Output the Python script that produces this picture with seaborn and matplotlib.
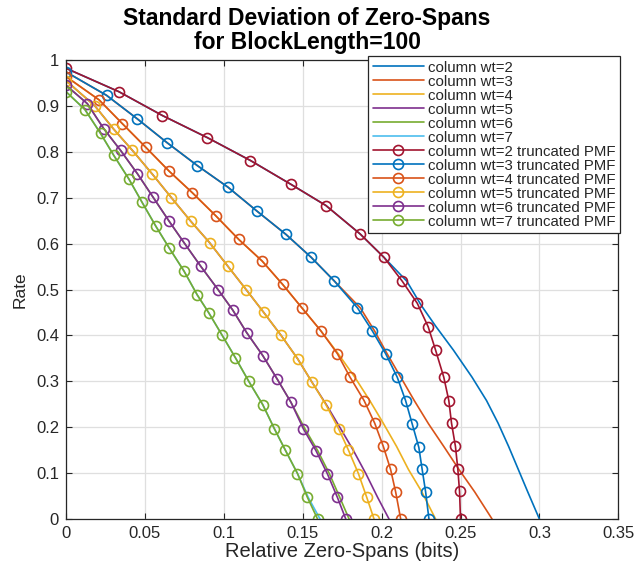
import matplotlib
matplotlib.use("Agg")
import matplotlib.pyplot as plt
import seaborn as sns

# truncated PMF curves (rate vs relative zero-span std), one per column weight
rate_pmf_wt2 = [0.982, 0.931, 0.879, 0.831, 0.781, 0.729, 0.683, 0.621, 0.570, 0.518,
                0.470, 0.419, 0.368, 0.309, 0.258, 0.209, 0.158, 0.109, 0.060, 0.0]
span_pmf_wt2 = [0.0, 0.0335, 0.0611, 0.0895, 0.1169, 0.1426, 0.1647, 0.1864, 0.2015, 0.2131,
                0.2226, 0.2295, 0.2342, 0.2394, 0.2426, 0.2443, 0.2468, 0.2483, 0.2494, 0.2500]

rate_pmf_wt3 = [0.974, 0.923, 0.872, 0.820, 0.770, 0.723, 0.670, 0.620, 0.570, 0.519,
                0.460, 0.410, 0.360, 0.309, 0.258, 0.207, 0.156, 0.108, 0.059, 0.0]
span_pmf_wt3 = [0.0, 0.0257, 0.0451, 0.0640, 0.0832, 0.1026, 0.1213, 0.1394, 0.1554, 0.1699,
                0.1847, 0.1941, 0.2026, 0.2099, 0.2152, 0.2194, 0.2236, 0.2257, 0.2279, 0.2300]

rate_pmf_wt4 = [0.964, 0.913, 0.861, 0.810, 0.758, 0.711, 0.661, 0.609, 0.562, 0.511,
                0.460, 0.410, 0.360, 0.309, 0.258, 0.209, 0.158, 0.108, 0.059, 0.0]
span_pmf_wt4 = [0.0, 0.0210, 0.0358, 0.0505, 0.0653, 0.0800, 0.0948, 0.1095, 0.1243, 0.1373,
                0.1495, 0.1615, 0.1720, 0.1800, 0.1889, 0.1956, 0.2011, 0.2057, 0.2089, 0.2121]

rate_pmf_wt5 = [0.955, 0.900, 0.849, 0.803, 0.751, 0.700, 0.649, 0.602, 0.551, 0.500,
                0.450, 0.400, 0.349, 0.298, 0.249, 0.197, 0.150, 0.099, 0.047, 0.0]
span_pmf_wt5 = [0.0, 0.0183, 0.0303, 0.0421, 0.0548, 0.0668, 0.0790, 0.0910, 0.1025, 0.1141,
                0.1253, 0.1363, 0.1468, 0.1559, 0.1647, 0.1727, 0.1790, 0.1853, 0.1906, 0.1952]

rate_pmf_wt6 = [0.945, 0.905, 0.850, 0.803, 0.752, 0.701, 0.649, 0.602, 0.551, 0.500,
                0.455, 0.406, 0.356, 0.305, 0.254, 0.196, 0.149, 0.098, 0.047, 0.0]
span_pmf_wt6 = [0.0, 0.0135, 0.0240, 0.0346, 0.0453, 0.0552, 0.0653, 0.0748, 0.0853, 0.0963,
                0.1057, 0.1145, 0.1247, 0.1338, 0.1426, 0.1505, 0.1584, 0.1657, 0.1720, 0.1773]

rate_pmf_wt7 = [0.931, 0.892, 0.840, 0.792, 0.741, 0.690, 0.638, 0.591, 0.540, 0.488,
                0.449, 0.400, 0.351, 0.300, 0.249, 0.197, 0.150, 0.099, 0.047, 0.0]
span_pmf_wt7 = [0.0, 0.0120, 0.0219, 0.0303, 0.0398, 0.0482, 0.0569, 0.0653, 0.0748, 0.0832,
                0.0905, 0.0990, 0.1074, 0.1158, 0.1247, 0.1320, 0.1390, 0.1467, 0.1530, 0.1594]

# plain column-weight curves (no markers)
rate_col_wt2 = [0.982, 0.931, 0.879, 0.831, 0.781, 0.729, 0.683, 0.621, 0.570, 0.518,
                0.466, 0.419, 0.368, 0.309, 0.258, 0.209, 0.158, 0.109, 0.060, 0.0]
span_col_wt2 = [0.0, 0.0335, 0.0611, 0.0895, 0.1169, 0.1426, 0.1647, 0.1864, 0.2015, 0.2160,
                0.2250, 0.2345, 0.2455, 0.2573, 0.2665, 0.2738, 0.2805, 0.2865, 0.2925, 0.3000]

rate_col_wt3 = [0.974, 0.923, 0.872, 0.820, 0.770, 0.723, 0.670, 0.620, 0.570, 0.519,
                0.460, 0.410, 0.360, 0.309, 0.258, 0.207, 0.156, 0.108, 0.059, 0.0]
span_col_wt3 = [0.0, 0.0257, 0.0451, 0.0640, 0.0832, 0.1026, 0.1213, 0.1394, 0.1554, 0.1699,
                0.1865, 0.1955, 0.2035, 0.2121, 0.2207, 0.2298, 0.2398, 0.2490, 0.2590, 0.2700]

rate_col_wt4 = [0.964, 0.913, 0.861, 0.810, 0.758, 0.711, 0.661, 0.609, 0.562, 0.511,
                0.460, 0.410, 0.360, 0.309, 0.258, 0.209, 0.158, 0.108, 0.059, 0.0]
span_col_wt4 = [0.0, 0.0210, 0.0358, 0.0505, 0.0653, 0.0800, 0.0948, 0.1095, 0.1243, 0.1373,
                0.1495, 0.1615, 0.1725, 0.1830, 0.1925, 0.2010, 0.2095, 0.2170, 0.2255, 0.2342]

rate_col_wt5 = [0.955, 0.900, 0.849, 0.803, 0.751, 0.700, 0.649, 0.602, 0.551, 0.500,
                0.450, 0.400, 0.349, 0.298, 0.249, 0.197, 0.150, 0.099, 0.047, 0.0]
span_col_wt5 = [0.0, 0.0183, 0.0303, 0.0421, 0.0548, 0.0668, 0.0790, 0.0910, 0.1025, 0.1141,
                0.1253, 0.1363, 0.1468, 0.1559, 0.1650, 0.1740, 0.1820, 0.1900, 0.1975, 0.2047]

rate_col_wt6 = [0.945, 0.905, 0.850, 0.803, 0.752, 0.701, 0.649, 0.602, 0.551, 0.500,
                0.455, 0.406, 0.356, 0.305, 0.254, 0.196, 0.149, 0.098, 0.047, 0.0]
span_col_wt6 = [0.0, 0.0135, 0.0240, 0.0346, 0.0453, 0.0552, 0.0653, 0.0748, 0.0853, 0.0963,
                0.1057, 0.1145, 0.1247, 0.1338, 0.1426, 0.1515, 0.1595, 0.1670, 0.1735, 0.1794]

rate_col_wt7 = [0.931, 0.892, 0.840, 0.792, 0.741, 0.690, 0.638, 0.591, 0.540, 0.488,
                0.449, 0.400, 0.351, 0.300, 0.249, 0.197, 0.150, 0.099, 0.047, 0.0]
span_col_wt7 = [0.0, 0.0120, 0.0219, 0.0303, 0.0398, 0.0482, 0.0569, 0.0653, 0.0748, 0.0832,
                0.0905, 0.0990, 0.1074, 0.1158, 0.1247, 0.1320, 0.1390, 0.1467, 0.1535, 0.1610]

weights = [2, 3, 4, 5, 6, 7]
x_ticks = [0, 0.05, 0.1, 0.15, 0.2, 0.25, 0.3, 0.35]
x_tick_labels = ["0", "0.05", "0.1", "0.15", "0.2", "0.25", "0.3", "0.35"]
y_ticks = [0, 0.1, 0.2, 0.3, 0.4, 0.5, 0.6, 0.7, 0.8, 0.9, 1.0]
y_tick_labels = ["0", "0.1", "0.2", "0.3", "0.4", "0.5", "0.6", "0.7", "0.8", "0.9", "1"]

# matlab default colour order
mcolors = ["#0072BD", "#D95319", "#EDB120", "#7E2F8E", "#77AC30", "#4DBEEE", "#A2142F"]


def main():
    sns.set_theme(style="ticks")
    plt.rcParams["font.family"] = ["Liberation Sans", "DejaVu Sans"]

    fig = plt.figure(figsize=(6.36, 5.65), dpi=100)
    ax = fig.add_axes([66 / 636, 1 - 519 / 565, (618.3 - 66) / 636, (519 - 60) / 565])

    col_curves = [(span_col_wt2, rate_col_wt2), (span_col_wt3, rate_col_wt3),
                  (span_col_wt4, rate_col_wt4), (span_col_wt5, rate_col_wt5),
                  (span_col_wt6, rate_col_wt6), (span_col_wt7, rate_col_wt7)]
    pmf_curves = [(span_pmf_wt2, rate_pmf_wt2), (span_pmf_wt3, rate_pmf_wt3),
                  (span_pmf_wt4, rate_pmf_wt4), (span_pmf_wt5, rate_pmf_wt5),
                  (span_pmf_wt6, rate_pmf_wt6), (span_pmf_wt7, rate_pmf_wt7)]

    # plain curves use colours 1-6
    for i, (wt, (xs, ys)) in enumerate(zip(weights, col_curves)):
        sns.lineplot(x=xs, y=ys, sort=False, estimator=None, color=mcolors[i],
                     linewidth=1.2, label=f"column wt={wt}", ax=ax)

    # truncated PMF curves continue the colour order: 7, then 1-5
    for i, (wt, (xs, ys)) in enumerate(zip(weights, pmf_curves)):
        c = mcolors[(i + 6) % 7]
        sns.lineplot(x=xs, y=ys, sort=False, estimator=None, color=c, linewidth=1.2,
                     marker="o", markersize=7.2, markerfacecolor="none",
                     markeredgecolor=c, markeredgewidth=1.2,
                     label=f"column wt={wt} truncated PMF", ax=ax)

    ax.set_xlim(0, 0.35)
    ax.set_ylim(0, 1)
    ax.set_xticks(x_ticks)
    ax.set_xticklabels(x_tick_labels)
    ax.set_yticks(y_ticks)
    ax.set_yticklabels(y_tick_labels)
    ax.grid(True, color="#dfdfdf", linewidth=0.9)
    ax.set_axisbelow(True)
    for s in ax.spines.values():
        s.set_visible(True)
        s.set_color("#262626")
        s.set_linewidth(0.9)
    ax.tick_params(direction="in", length=4, width=0.8, color="#262626",
                   labelsize=12, labelcolor="#262626", top=True, right=True, pad=5)

    ax.set_xlabel("Relative Zero-Spans (bits)", fontsize=14.5, color="#262626", labelpad=1)
    ax.set_ylabel("Rate", fontsize=12.5, color="#262626", labelpad=6)
    # title sits left of the axes centre in the original
    ax.set_title("Standard Deviation of Zero-Spans\nfor BlockLength=100",
                 fontsize=16.5, fontweight="bold", linespacing=1.05, pad=8,
                 color="black", x=(307 - 66) / 552.3)

    leg = ax.legend(loc="upper right", bbox_to_anchor=(620 / 636, 1 - 56 / 565),
                    bbox_transform=fig.transFigure, borderaxespad=0, fontsize=10.8,
                    handlelength=3.4, handletextpad=0.3, labelspacing=0.0,
                    borderpad=0.3, fancybox=False, framealpha=1, edgecolor="#262626")
    leg.get_frame().set_linewidth(0.9)

    fig.savefig("out.png", dpi=100)


if __name__ == "__main__":
    main()
